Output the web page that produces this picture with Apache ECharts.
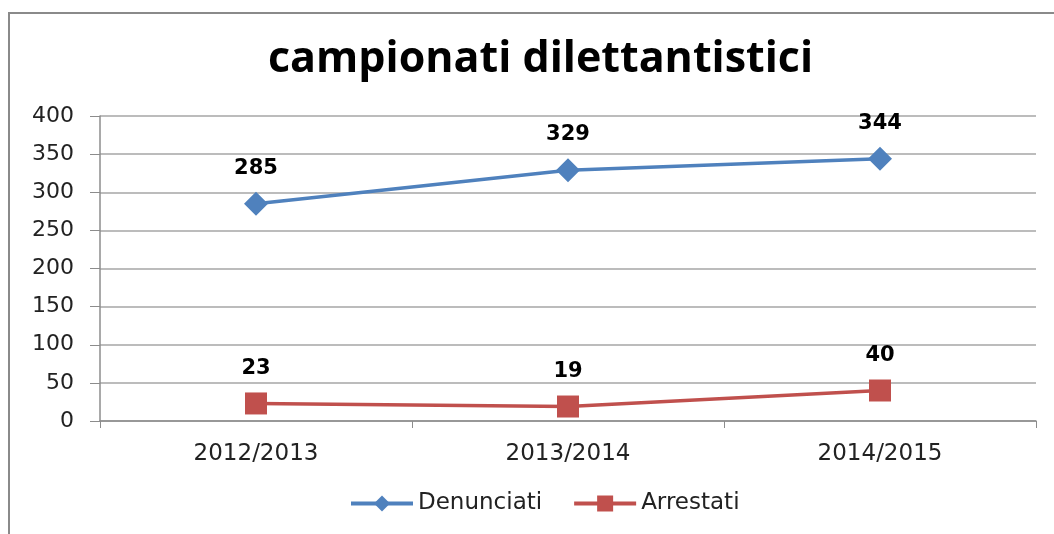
<!DOCTYPE html>
<html>
<head>
<meta charset="utf-8">
<script src="https://cdn.jsdelivr.net/npm/echarts@6/dist/echarts.min.js"></script>
<style>
  html, body { margin: 0; padding: 0; background: #fff; }
  #chart { width: 1054px; height: 534px; }
</style>
</head>
<body>
<div id="chart"></div>
<script>
    var seasons = ['2012/2013', '2013/2014', '2014/2015'];
    var denunciati = [285, 329, 344];
    var arrestati = [23, 19, 40];

    var chart = echarts.init(document.getElementById('chart'));
    var labelStyle = {
        show: true,
        position: 'top',
        distance: 13,
        color: '#000',
        fontFamily: 'DejaVu Sans',
        fontWeight: 'bold',
        fontSize: 21
    };
    chart.setOption({
        animation: false,
        graphic: [{
            type: 'rect',
            shape: { x: 9, y: 13, width: 1060, height: 540 },
            style: { fill: 'none', stroke: '#8a8a8a', lineWidth: 2 }
        }],
        title: {
            text: 'campionati dilettantistici',
            left: 263,
            top: 33,
            textStyle: { fontFamily: 'Open Sans', fontWeight: 'bold', fontSize: 43, color: '#000' }
        },
        legend: {
            bottom: 14,
            left: 344,
            itemWidth: 62,
            itemHeight: 20,
            itemGap: 30,
            textStyle: { fontFamily: 'DejaVu Sans', fontSize: 23, color: '#222' },
            lineStyle: { width: 4 },
            data: ['Denunciati', 'Arrestati']
        },
        grid: { left: 100, right: 18, top: 116, bottom: 113 },
        xAxis: {
            type: 'category',
            data: seasons,
            axisLine: { lineStyle: { color: '#8c8c8c', width: 1.5 } },
            axisTick: { show: true, length: 7, lineStyle: { color: '#8c8c8c' } },
            axisLabel: { fontFamily: 'DejaVu Sans', fontSize: 23, color: '#222', margin: 22 }
        },
        yAxis: {
            type: 'value',
            min: 0,
            max: 400,
            interval: 50,
            axisLine: { show: true, lineStyle: { color: '#8c8c8c', width: 1.5 } },
            axisTick: { show: true, length: 10, lineStyle: { color: '#8c8c8c' } },
            axisLabel: { fontFamily: 'DejaVu Sans', fontSize: 22, color: '#222', margin: 26 },
            splitLine: { lineStyle: { color: '#a6a6a6', width: 1.5 } }
        },
        series: [{
            name: 'Denunciati',
            type: 'line',
            data: denunciati,
            symbol: 'diamond',
            symbolSize: 24,
            itemStyle: { color: '#4F81BD' },
            lineStyle: { color: '#4F81BD', width: 3.5 },
            label: labelStyle
        }, {
            name: 'Arrestati',
            type: 'line',
            data: arrestati,
            symbol: 'rect',
            symbolSize: 22,
            itemStyle: { color: '#C0504D' },
            lineStyle: { color: '#C0504D', width: 3.5 },
            label: labelStyle
        }]
    });
</script>
</body>
</html>
